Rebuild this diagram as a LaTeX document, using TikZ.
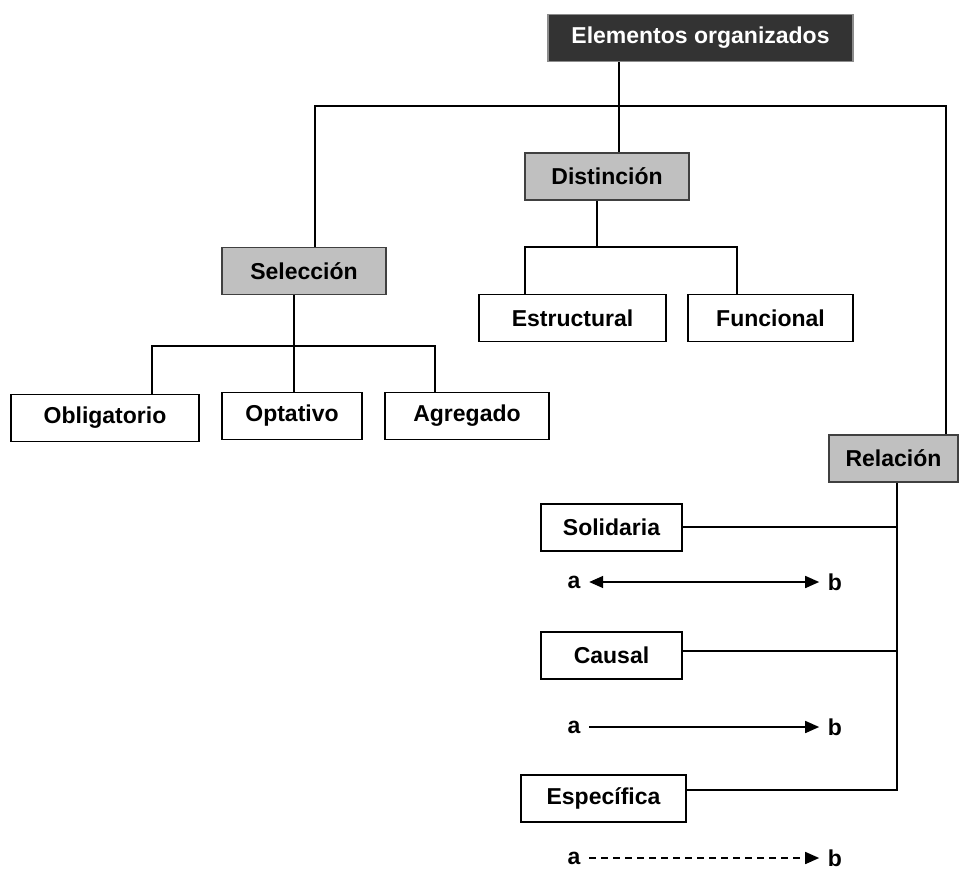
\documentclass[tikz,border=0pt]{standalone}
\usepackage{fontspec}
\setmainfont{Liberation Sans}
\usetikzlibrary{arrows.meta}
\definecolor{boxgray}{RGB}{192,192,192}
\definecolor{darkbox}{RGB}{51,51,51}
\begin{document}
\begin{tikzpicture}[x=1pt,y=-1pt,
    font=\fontsize{23}{27}\selectfont\bfseries,
    line width=1.6pt,
    >={Triangle[length=14pt,width=12pt]},
    box/.style={draw,fill=white,inner sep=0pt,minimum height=47pt},
    graybox/.style={box,fill=boxgray,draw=black!75},
    topbox/.style={box,fill=darkbox,draw=black!45,text=white},
    ab/.style={inner xsep=8pt,inner ysep=0pt}]
  \useasboundingbox (0,0) rectangle (960,870);
  \draw
    (700.5,38) node[topbox,minimum width=305pt] (elem){Elementos organizados}
    (607,176.5) node[graybox,minimum width=164pt] (dist){Distinción}
    (304,271) node[graybox,minimum width=164pt] (sel){Selección}
    (572.5,318) node[box,minimum width=187pt] (estr){Estructural}
    (770.5,318) node[box,minimum width=165pt] (func){Funcional}
    (105,418) node[box,minimum width=188pt] (obl){Obligatorio}
    (292,416) node[box,minimum width=140pt] (opt){Optativo}
    (467,416) node[box,minimum width=164pt] (agr){Agregado}
    (893.5,458.5) node[graybox,minimum width=129pt] (rel){Relación}
    (611.5,527.5) node[box,minimum width=141pt] (sol){Solidaria}
    (611.5,655.5) node[box,minimum width=141pt] (cau){Causal}
    (603.5,798.5) node[box,minimum width=165pt] (esp){Específica};
  \draw
    (574,582) node[ab] (a1){a}
    (835,582) node[ab] (b1){b}
    (574,727) node[ab] (a2){a}
    (835,727) node[ab] (b2){b}
    (574,858) node[ab] (a3){a}
    (835,858) node[ab] (b3){b};
  \coordinate (j0) at (619,106);
  \coordinate (j1) at (315,106);
  \coordinate (j2) at (946,106);
  \coordinate (d0) at (597,247);
  \coordinate (d1) at (525,247);
  \coordinate (d2) at (737,247);
  \coordinate (s0) at (294,346);
  \coordinate (s1) at (152,346);
  \coordinate (s2) at (435,346);
  \coordinate (r0) at (897,790);
  \coordinate (r1) at (897,527);
  \coordinate (r2) at (897,651);
  \begin{scope}[-]
    \draw (j0 |- elem.south) to (j0 |- dist.north);
    \draw (j1 |- sel.north) -- (j1) -- (j2) -- (j2 |- rel.north);
    \draw (d0 |- dist.south) to (d0);
    \draw (d1 |- estr.north) -- (d1) -- (d2) -- (d2 |- func.north);
    \draw (s0 |- sel.south) to (s0 |- opt.north);
    \draw (s1 |- obl.north) -- (s1) -- (s2) -- (s2 |- agr.north);
    \draw (r0 |- rel.south) -- (r0) -- (r0 -| esp.east);
    \draw (r1 -| sol.east) to (r1);
    \draw (r2 -| cau.east) to (r2);
  \end{scope}
  \draw[<->] (a1) to (b1);
  \draw[->] (a2) to (b2);
  \draw[->,dash pattern=on 7pt off 5pt] (a3) to (b3);
\end{tikzpicture}
\end{document}
